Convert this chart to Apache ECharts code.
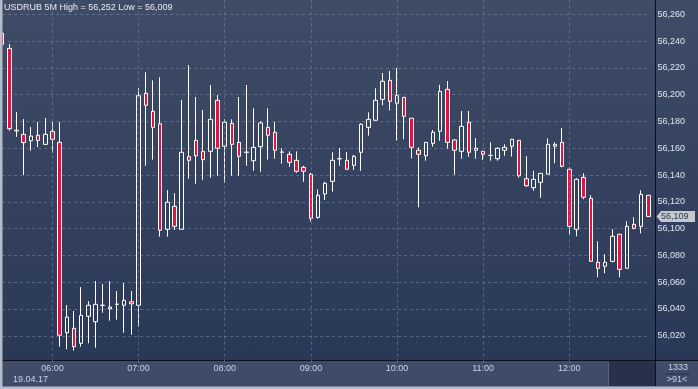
<!DOCTYPE html>
<html><head><meta charset="utf-8">
<script src="https://cdn.jsdelivr.net/npm/echarts@6/dist/echarts.min.js"></script>
<style>
html,body{margin:0;padding:0;background:#3e4c67;}
#c{width:698px;height:389px;background:linear-gradient(to bottom,#404c66 0px,#2a3858 361px,#3e4c67 361px);}
</style></head><body><div id="c"></div>
<script>
const times = ['05:25','05:30','05:35','05:40','05:45','05:50','05:55',
'06:00','06:05','06:10','06:15','06:20','06:25','06:30','06:35','06:40','06:45','06:50','06:55',
'07:00','07:05','07:10','07:15','07:20','07:25','07:30','07:35','07:40','07:45','07:50','07:55',
'08:00','08:05','08:10','08:15','08:20','08:25','08:30','08:35','08:40','08:45','08:50','08:55',
'09:00','09:05','09:10','09:15','09:20','09:25','09:30','09:35','09:40','09:45','09:50','09:55',
'10:00','10:05','10:10','10:15','10:20','10:25','10:30','10:35','10:40','10:45','10:50','10:55',
'11:00','11:05','11:10','11:15','11:20','11:25','11:30','11:35','11:40','11:45','11:50','11:55',
'12:00','12:05','12:10','12:15','12:20','12:25','12:30','12:35','12:40','12:45','12:50','12:55'];
const openVals = [56245.8,56234.6,56173.0,56170.4,56165.6,56169.7,56162.9,
56172.6,56164.4,56022.3,56025.6,56014.4,56034.6,56030.5,56042.6,56041.5,56043.5,56042.8,56045.4,
56042.8,56201.0,56187.6,56178.3,56099.5,56116.7,56099.5,56153.7,56165.9,56157.7,56157.7,56195.8,
56161.5,56178.6,56164.4,56156.9,56150.7,56161.2,56175.6,56171.9,56157.2,56155.5,56151.0,56145.8,
56140.6,56108.4,56125.9,56135.3,56152.0,56151.0,56147.3,56157.0,56175.6,56180.9,56196.5,56210.7,
56193.6,56198.0,56182.4,56158.5,56154.4,56163.7,56172.7,56204.0,56166.2,56157.7,56179.4,56158.5,
56157.7,56154.6,56152.2,56158.5,56161.5,56165.9,56137.3,56130.6,56134.6,56140.6,56161.5,56164.4,
56144.3,56099.5,56138.3,56122.6,56074.9,56071.9,56075.6,56095.8,56070.4,56103.2,56101.7,56124.9];
const closeVals = [56237.6,56174.6,56173.4,56164.2,56169.1,56165.9,56170.4,
56166.7,56020.4,56034.0,56011.9,56035.3,56042.8,56043.5,56042.9,56040.2,56043.7,56046.5,56043.9,
56199.2,56192.1,56175.6,56098.8,56119.7,56101.7,56157.0,56151.0,56154.4,56151.5,56181.6,56160.0,
56179.4,56162.9,56154.0,56157.2,56160.7,56178.9,56169.7,56158.5,56157.0,56149.5,56142.8,56142.8,
56107.7,56124.9,56133.8,56151.0,56152.3,56144.3,56154.0,56177.9,56181.6,56195.8,56210.0,56195.1,
56199.5,56183.9,56160.7,56155.5,56164.4,56171.9,56202.5,56164.4,56158.5,56176.4,56157.0,56160.0,
56155.5,56154.7,56160.0,56160.7,56166.7,56139.5,56132.0,56136.8,56141.3,56162.9,56162.9,56146.5,
56101.7,56136.8,56123.4,56075.6,56070.4,56074.9,56094.3,56069.6,56101.7,56100.2,56125.6,56109.0];
const lowVals = [56236.0,56173.1,56168.6,56140.0,56158.2,56160.9,56162.5,
56156.7,56011.9,56010.0,56009.0,56011.9,56014.4,56011.1,56037.2,56031.3,56032.0,56022.3,56020.8,
56026.8,56147.0,56151.5,56094.0,56094.0,56099.0,56099.3,56137.3,56133.5,56136.5,56138.0,56139.5,
56134.3,56139.5,56139.5,56147.0,56143.2,56142.5,56151.5,56152.2,56148.5,56146.2,56141.7,56135.0,
56105.2,56107.4,56121.4,56127.6,56147.0,56144.2,56143.8,56143.2,56169.4,56180.8,56192.1,56188.3,
56165.9,56166.7,56152.5,56115.9,56150.7,56161.2,56165.6,56159.7,56140.3,56152.2,56153.7,56152.2,
56151.2,56150.7,56150.7,56154.4,56153.8,56138.0,56131.3,56128.3,56123.1,56140.5,56148.8,56145.8,
56095.8,56094.3,56121.9,56075.4,56063.7,56066.7,56074.9,56063.7,56070.3,56099.5,56096.5,56108.9];
const highVals = [56252.0,56237.8,56187.1,56181.8,56175.9,56179.6,56182.6,
56179.6,56179.6,56043.0,56038.5,56056.4,56045.9,56060.9,56058.7,56060.9,56053.4,56059.4,56053.4,
56204.8,56216.7,56210.7,56213.0,56128.8,56126.4,56196.0,56222.1,56198.3,56188.6,56207.2,56199.8,
56181.6,56181.6,56198.3,56207.2,56189.8,56180.1,56189.8,56179.6,56160.0,56157.7,56157.7,56147.0,
56141.7,56129.3,56135.0,56157.0,56160.0,56157.2,56155.0,56178.6,56186.8,56204.8,56216.2,56217.7,
56219.9,56198.2,56182.6,56160.7,56164.6,56173.6,56207.4,56210.2,56166.7,56187.8,56187.8,56167.6,
56157.8,56164.4,56160.7,56162.9,56167.0,56166.0,56154.0,56143.2,56141.5,56167.4,56164.4,56175.1,
56145.8,56137.6,56141.3,56124.9,56090.5,56080.8,56099.5,56096.0,56105.5,56108.5,56128.6,56125.0];

const titleText = 'USDRUB 5M High = 56,252 Low = 56,009';
const dateText = '19.04.17';
const barCountText = '1333';
const visibleText = '>91<';
const yMin = 56000, yMax = 56280, yStep = 20;

const FONT = "'Liberation Sans', Arial, sans-serif";
const fmt = v => String(Math.round(v)).replace(/\B(?=(\d{3})+(?!\d))/g, ',');
const isHour = (i, v) => v.slice(3) === '00';

const chart = echarts.init(document.getElementById('c'), null, {renderer: 'canvas'});
const ohlc = times.map((t, i) => [openVals[i], closeVals[i], lowVals[i], highVals[i]]);

chart.setOption({
  backgroundColor: 'transparent',
  animation: false,
  grid: {left: 2.19, right: 49.7, top: -12.5, bottom: 26.4, containLabel: false, outerBoundsMode: 'none'},
  xAxis: {
    type: 'category', data: times, boundaryGap: false, z: 200,
    axisLine: {show: false}, axisTick: {show: false},
    axisLabel: {interval: isHour, color: '#c6d3e8', fontSize: 9, fontFamily: FONT, margin: 1.5},
    splitLine: {show: true, interval: isHour, lineStyle: {color: 'rgba(125,140,170,0.55)', type: [3, 3], width: 1}}
  },
  yAxis: {
    type: 'value', position: 'right', min: yMin, max: yMax, interval: yStep, scale: true,
    axisLine: {show: false}, axisTick: {show: false},
    axisLabel: {color: '#dde5f1', fontSize: 9, fontFamily: FONT, margin: 9.2,
      formatter: v => (v <= yMin || v >= yMax) ? '' : fmt(v)},
    splitLine: {show: true, lineStyle: {color: 'rgba(125,140,170,0.55)', type: [3, 3], width: 1}}
  },
  series: [{
    type: 'candlestick', data: ohlc, clip: false, barWidth: 4,
    itemStyle: {color: 'rgba(0,0,0,0)', color0: '#e2143d', borderColor: '#ffffff', borderColor0: '#ffffff', borderColorDoji: '#ffffff', borderWidth: 1}
  }]
});

const lastClose = closeVals[closeVals.length - 1];
const py = chart.convertToPixel({yAxisIndex: 0}, lastClose);

chart.setOption({
  graphic: {elements: [
    {type: 'rect', z: 100, shape: {x: 0, y: 361, width: 698, height: 2.6}, style: {fill: '#3e4c67'}},
    {type: 'rect', z: 101, shape: {x: 608, y: 361, width: 47, height: 25}, style: {fill: '#27324a'}},
    {type: 'line', z: 102, shape: {x1: 608.5, y1: 362, x2: 608.5, y2: 386}, style: {stroke: '#56637c', lineWidth: 1}},
    {type: 'line', z: 102, shape: {x1: 0, y1: 360.5, x2: 698, y2: 360.5}, style: {stroke: '#0b0f18', lineWidth: 1}},
    {type: 'line', z: 102, shape: {x1: 655.5, y1: 0, x2: 655.5, y2: 386}, style: {stroke: '#0b0f18', lineWidth: 1}},
    {type: 'line', z: 102, shape: {x1: 665, y1: 374, x2: 690, y2: 374}, style: {stroke: '#27324a', lineWidth: 1}},
    {type: 'rect', z: 103, shape: {x: 0, y: 0, width: 2.5, height: 389}, style: {fill: '#b3bcc9'}},
    {type: 'rect', z: 103, shape: {x: 0, y: 386.5, width: 698, height: 3}, style: {fill: '#b3bcc9'}},
    {type: 'text', z: 104, x: 4, y: 8, style: {text: titleText, fill: '#e7ecf3', font: '9px ' + FONT, verticalAlign: 'middle'}},
    {type: 'text', z: 104, x: 13, y: 380, style: {text: dateText, fill: '#c6d3e8', font: '9px ' + FONT, verticalAlign: 'middle'}},
    {type: 'text', z: 104, x: 688, y: 367.5, style: {text: barCountText, fill: '#c6d3e8', font: '9px ' + FONT, align: 'right', verticalAlign: 'middle'}},
    {type: 'text', z: 104, x: 677, y: 380, style: {text: visibleText, fill: '#c6d3e8', font: '9px ' + FONT, align: 'center', verticalAlign: 'middle'}},
    {type: 'polygon', z: 104, shape: {points: [[656.5, py], [661, py - 5.5], [695, py - 5.5], [695, py + 5.5], [661, py + 5.5]]}, style: {fill: '#c4c8cf'}},
    {type: 'text', z: 105, x: 661, y: py, style: {text: fmt(lastClose), fill: '#2f3a52', font: '9px ' + FONT, verticalAlign: 'middle'}}
  ]}
});
</script></body></html>
